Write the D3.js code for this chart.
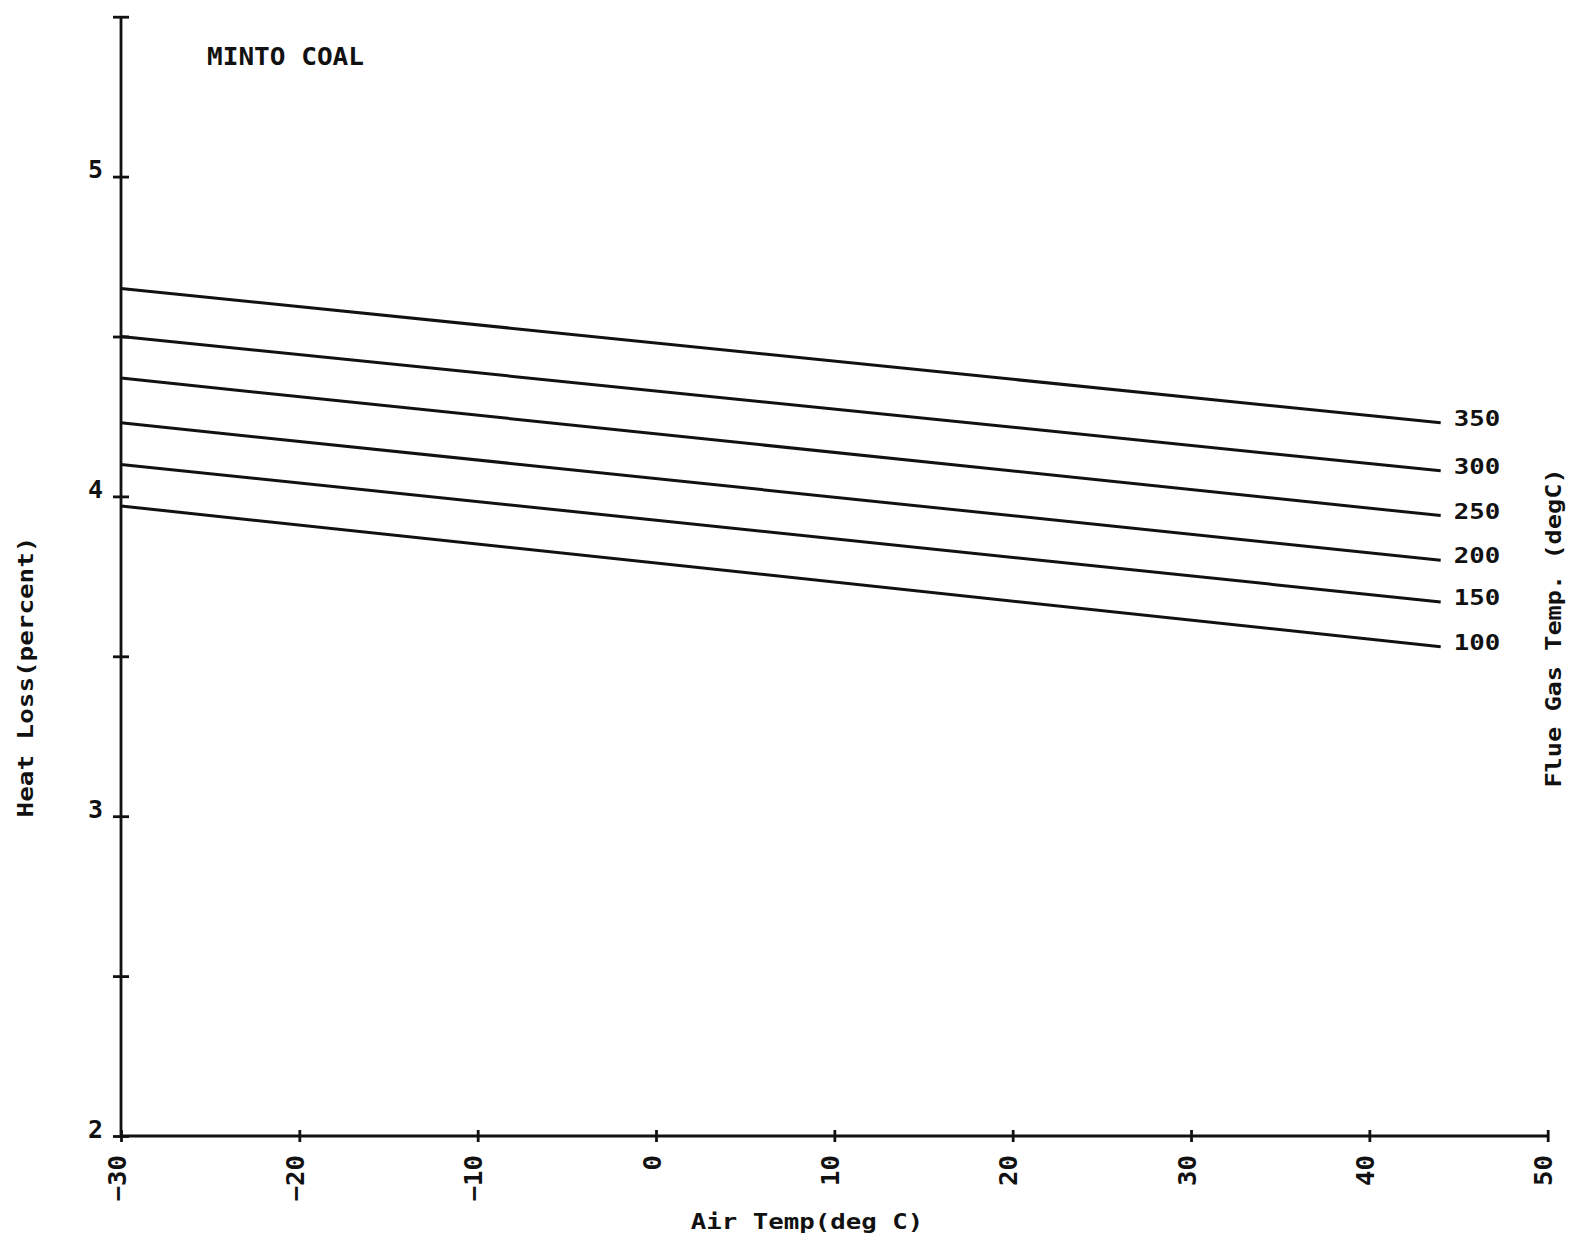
<!DOCTYPE html>
<html>
<head>
<meta charset="utf-8">
<script src="https://cdn.jsdelivr.net/npm/d3@7"></script>
<style>
  body { margin: 0; background: #fff; }
  svg text { font-family: "DejaVu Sans Mono", monospace; font-weight: bold; fill: #111; }
</style>
</head>
<body>
<div id="chart"></div>
<script>
// Chart data
const airTemps = [-30, 44];
const flueGasTemps = [350, 300, 250, 200, 150, 100];
const loss350 = [4.65, 4.23];
const loss300 = [4.50, 4.08];
const loss250 = [4.37, 3.94];
const loss200 = [4.23, 3.80];
const loss150 = [4.10, 3.67];
const loss100 = [3.97, 3.53];
const xTicks = [-30, -20, -10, 0, 10, 20, 30, 40, 50];
const yTicks = [2, 2.5, 3, 3.5, 4, 4.5, 5, 5.5];
const yLabels = [2, 3, 4, 5];

const series = [loss350, loss300, loss250, loss200, loss150, loss100].map(function(vals, i) {
    return {label: String(flueGasTemps[i]),
            points: airTemps.map(function(t, j) { return {t: t, v: vals[j]}; })};
});

const W = 1579, H = 1244,
    charW = 15.5;

const x = d3.scaleLinear().domain([-30, 50]).range([121, 1547.7]);
const y = d3.scaleLinear().domain([2, 5.5]).range([1136, 16.7]);

const svg = d3.select("#chart").append("svg")
    .attr("width", W)
    .attr("height", H);

svg.append("rect").attr("width", W).attr("height", H).attr("fill", "#fff");

// stretch a text to the plotter's wide character cell
function wide(sel, cw) {
    sel.attr("textLength", function() { return this.textContent.length * cw; })
       .attr("lengthAdjust", "spacingAndGlyphs");
}

// Y axis: ticks cross the line
const yAxis = d3.axisLeft(y)
    .tickValues(yTicks)
    .tickSize(16)
    .tickPadding(10)
    .tickFormat(function(d) { return yLabels.indexOf(d) >= 0 ? d : ""; });
const gy = svg.append("g")
    .attr("transform", "translate(" + (x(-30) + 8) + ",0)")
    .call(yAxis);
gy.select(".domain").remove();
gy.selectAll("line").attr("stroke", "#111").attr("stroke-width", 2.8);
gy.selectAll("text")
    .attr("dy", 0)
    .attr("y", 1)
    .style("font-size", "25px")
    .call(wide, 15);

// X axis
const xAxis = d3.axisBottom(x)
    .tickValues(xTicks)
    .tickSize(12)
    .tickFormat(d3.format("d"));
const gx = svg.append("g")
    .attr("transform", "translate(0," + (y(2) - 6) + ")")
    .call(xAxis);
gx.select(".domain").remove();
gx.selectAll("line").attr("stroke", "#111").attr("stroke-width", 2.8);
gx.selectAll("text")
    .attr("dy", 0)
    .attr("y", 0)
    .attr("x", 0)
    .attr("text-anchor", "end")
    .attr("transform", "translate(4,25) rotate(-90)")
    .style("font-size", "24px")
    .call(wide, 15.5);

// axis lines
svg.append("line")
    .attr("x1", x(-30)).attr("x2", x(-30))
    .attr("y1", y(2)).attr("y2", y(5.5))
    .attr("stroke", "#111").attr("stroke-width", 2.8);
svg.append("line")
    .attr("x1", x(-30)).attr("x2", x(50))
    .attr("y1", y(2)).attr("y2", y(2))
    .attr("stroke", "#111").attr("stroke-width", 2.8);

// Heat loss lines
const line = d3.line()
    .x(function(d) { return x(d.t); })
    .y(function(d) { return y(d.v); });

svg.selectAll(".curve")
    .data(series)
    .enter().append("path")
        .attr("class", "curve")
        .attr("d", function(d) { return line(d.points); })
        .attr("fill", "none")
        .attr("stroke", "#111")
        .attr("stroke-width", 3);

// end labels
svg.selectAll(".endlabel")
    .data(series)
    .enter().append("text")
        .attr("class", "endlabel")
        .attr("x", function(d) { return x(d.points[d.points.length - 1].t) + 13; })
        .attr("y", function(d) { return y(d.points[d.points.length - 1].v) + 3; })
        .style("font-size", "21px")
        .text(function(d) { return d.label; })
        .call(wide, charW);

// titles
svg.append("text")
    .attr("x", 207).attr("y", 65)
    .style("font-size", "25px")
    .text("MINTO COAL")
    .call(wide, 15.7);

svg.append("text")
    .attr("x", 807).attr("y", 1229)
    .attr("text-anchor", "middle")
    .style("font-size", "21px")
    .text("Air Temp(deg C)")
    .call(wide, charW);

svg.append("text")
    .attr("transform", "translate(33,677) rotate(-90)")
    .attr("text-anchor", "middle")
    .style("font-size", "21px")
    .text("Heat Loss(percent)")
    .call(wide, 15.6);

svg.append("text")
    .attr("transform", "translate(1561,628) rotate(-90)")
    .attr("text-anchor", "middle")
    .style("font-size", "21px")
    .text("Flue Gas Temp. (degC)")
    .call(wide, 15.2);
</script>
</body>
</html>
